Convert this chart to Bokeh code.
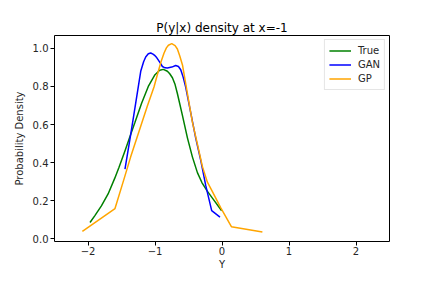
from bokeh.plotting import figure
from bokeh.models import FixedTicker, Legend, LegendItem, Range1d
from bokeh.embed import file_html
from bokeh.resources import INLINE

title = "P(y|x) density at x=-1"

true_x = [-1.97, -1.9, -1.8, -1.7, -1.6, -1.537, -1.45, -1.363, -1.3, -1.2, -1.1, -1.0,
          -0.93, -0.875, -0.815, -0.78, -0.74, -0.70, -0.666, -0.59, -0.516, -0.442, -0.367,
          -0.30, -0.22, -0.143, -0.005]
true_y = [0.085, 0.12, 0.172, 0.235, 0.318, 0.375, 0.46, 0.547, 0.61, 0.712, 0.80, 0.862,
          0.885, 0.89, 0.88, 0.867, 0.846, 0.81, 0.763, 0.647, 0.53, 0.43, 0.347,
          0.295, 0.25, 0.213, 0.147]

gan_x = [-1.448, -1.363, -1.288, -1.213, -1.17, -1.139, -1.10, -1.064, -1.03, -1.0, -0.975,
         -0.915, -0.89, -0.85, -0.815, -0.75, -0.691, -0.65, -0.616, -0.58, -0.542, -0.467,
         -0.393, -0.318, -0.243, -0.154, -0.03]
gan_y = [0.366, 0.547, 0.713, 0.88, 0.93, 0.955, 0.972, 0.976, 0.97, 0.962, 0.952,
         0.92, 0.905, 0.898, 0.897, 0.902, 0.91, 0.905, 0.888, 0.85, 0.797, 0.663,
         0.53, 0.413, 0.28, 0.147, 0.113]

gp_x = [-2.084, -1.597, -1.463, -1.363, -1.239, -1.114, -1.015, -0.964, -0.91, -0.866, -0.83,
        -0.80, -0.75, -0.70, -0.666, -0.63, -0.59, -0.516, -0.442, -0.367, -0.293, -0.218,
        -0.143, -0.02, 0.14, 0.603]
gp_y = [0.038, 0.158, 0.313, 0.43, 0.563, 0.697, 0.797, 0.863, 0.93, 0.975, 1.003,
        1.017, 1.025, 1.015, 0.997, 0.96, 0.913, 0.763, 0.613, 0.497, 0.38, 0.297,
        0.247, 0.163, 0.063, 0.035]

x_ticks = [-2, -1, 0, 1, 2]
x_tick_labels = ["\u22122", "\u22121", "0", "1", "2"]
y_ticks = [0.0, 0.2, 0.4, 0.6, 0.8, 1.0]
y_tick_labels = ["0.0", "0.2", "0.4", "0.6", "0.8", "1.0"]

FONT = "DejaVu Sans"

p = figure(width=416, height=272, output_backend="svg", toolbar_location=None,
           x_range=Range1d(-2.5, 2.5), y_range=Range1d(-0.015, 1.068),
           min_border_left=54, min_border_right=27, min_border_top=35, min_border_bottom=27)
p.title.text = title
p.title.align = "center"
p.title.vertical_align = "bottom"
p.title.text_font = FONT
p.title.text_font_size = "12px"
p.title.text_font_style = "normal"
p.title.text_color = "black"
p.title.standoff = 2

p.xgrid.visible = False
p.ygrid.visible = False
p.outline_line_color = "black"
p.outline_line_width = 1
p.background_fill_color = "white"
p.border_fill_color = "white"

for ax in (p.xaxis[0], p.yaxis[0]):
    ax.axis_line_color = None
    ax.major_tick_in = 0
    ax.major_tick_out = 4
    ax.minor_tick_line_color = None
    ax.major_label_text_font = FONT
    ax.major_label_text_font_size = "10px"
    ax.major_label_text_color = "#262626"
    ax.axis_label_text_font = FONT
    ax.axis_label_text_font_size = "10px"
    ax.axis_label_text_font_style = "normal"
    ax.axis_label_text_color = "#262626"
    ax.major_label_standoff = 1
    ax.axis_label_standoff = 1

p.yaxis.major_label_standoff = 2
p.yaxis.axis_label_standoff = 5

p.xaxis.ticker = FixedTicker(ticks=x_ticks)
p.xaxis.major_label_overrides = dict(zip(x_ticks, x_tick_labels))
p.yaxis.ticker = FixedTicker(ticks=y_ticks)
p.yaxis.major_label_overrides = dict(zip(y_ticks, y_tick_labels))
p.xaxis.axis_label = "Y"
p.yaxis.axis_label = "Probability Density"

r_true = p.line(true_x, true_y, line_color="green", line_width=1.5)
r_gan = p.line(gan_x, gan_y, line_color="blue", line_width=1.5)
r_gp = p.line(gp_x, gp_y, line_color="orange", line_width=1.5)

legend = Legend(items=[LegendItem(label="True", renderers=[r_true]),
                       LegendItem(label="GAN", renderers=[r_gan]),
                       LegendItem(label="GP", renderers=[r_gp])],
                location="top_right")
legend.label_text_font = FONT
legend.label_text_font_size = "10px"
legend.label_text_color = "#262626"
legend.label_height = 13
legend.glyph_height = 13
legend.glyph_width = 22
legend.spacing = 1
legend.padding = 4
legend.margin = 4
legend.label_standoff = 7
legend.border_line_color = "#cccccc"
legend.border_line_width = 1
legend.background_fill_alpha = 0.8
p.add_layout(legend)

open("out.html", "w").write(file_html(p, INLINE))
